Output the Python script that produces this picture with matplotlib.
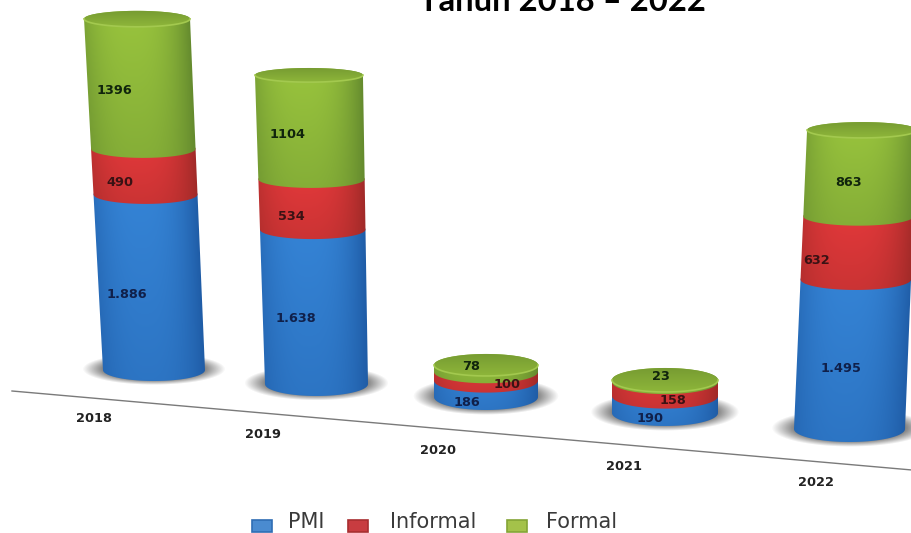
import numpy as np
import matplotlib
matplotlib.use("Agg")
import matplotlib.pyplot as plt
from matplotlib.path import Path
from matplotlib.patches import PathPatch, Rectangle

years = ["2018", "2019", "2020", "2021", "2022"]
pmi = [1886, 1638, 186, 190, 1495]
informal = [490, 534, 100, 158, 632]
formal = [1396, 1104, 78, 23, 863]
pmi_labels = ["1.886", "1.638", "186", "190", "1.495"]
informal_labels = ["490", "534", "100", "158", "632"]
formal_labels = ["1396", "1104", "78", "23", "863"]
series_names = ["PMI", "Informal", "Formal"]
title = "Tahun 2018 – 2022"

# perspective layout of each cylinder (pixels, and pixels per unit of value)
base_x = [154, 316.5, 486, 665, 849.5]
base_y = [370, 384, 397, 413, 429]
px_per_unit = [0.0931, 0.0943, 0.088, 0.089, 0.100]
lean_per_unit = [-0.0045, -0.0023, 0.0, 0.0, 0.0042]
half_w0 = [51, 51.5, 52, 53, 55.5]
half_w_slope = [0.00053, 0.00076, 0.0, 0.0, -0.00017]
minor0 = [11, 12, 13, 13, 13]
minor_slope = [-0.0008, -0.0015, -0.0055, -0.0027, -0.0017]

# hand placement of texts
year_xy = [(94, 419), (263, 434), (438, 450), (624, 466), (816, 482)]
pmi_xy = [(127, 295), (296, 319), (467, 403), (650, 418), (841, 368)]
informal_xy = [(120, 183), (291, 216), (507, 385), (673, 401), (817, 260)]
formal_xy = [(114, 91), (288, 135), (471, 366), (661, 377), (849, 182)]

palette = {
    "PMI": ("#1F5CA6", "#3584D6"),
    "Informal": ("#A02A28", "#E4393B"),
    "Formal": ("#648A2E", "#99C43D"),
}
swatch_face = {"PMI": "#4A8BD0", "Informal": "#C83C40", "Formal": "#A4C24A"}
swatch_edge = {"PMI": "#2F6DB4", "Informal": "#A82E30", "Formal": "#84A436"}
W, H = 912, 533

fig = plt.figure(figsize=(W / 100, H / 100), dpi=100)
ax = fig.add_axes([0, 0, 1, 1])
ax.set_axis_off()


def rgb(c):
    return np.array(matplotlib.colors.to_rgb(c))


def geom(i, v):
    return (base_x[i] + lean_per_unit[i] * v,
            base_y[i] - px_per_unit[i] * v,
            half_w0[i] + half_w_slope[i] * v,
            minor0[i] + minor_slope[i] * v)


def segment_path(i, v0, v1):
    cx0, cy0, a0, b0 = geom(i, v0)
    cx1, cy1, a1, b1 = geom(i, v1)
    th = np.linspace(np.pi, 0, 60)
    low = np.c_[cx0 + a0 * np.cos(th), cy0 + b0 * np.sin(th)]
    th2 = np.linspace(0, np.pi, 60)
    up = np.c_[cx1 + a1 * np.cos(th2), cy1 - b1 * np.sin(th2)]
    pts = np.vstack([low, up, low[:1]])
    return Path(pts, closed=True)


def draw_segment(i, v0, v1, name):
    path = segment_path(i, v0, v1)
    bb = path.get_extents()
    x0, x1 = int(bb.x0) - 1, int(bb.x1) + 2
    y0, y1 = int(bb.y0) - 1, int(bb.y1) + 2
    xs, ys = np.meshgrid(np.arange(x0, x1) + .5, np.arange(y0, y1) + .5)
    v = (base_y[i] - ys) / px_per_unit[i]
    cx = base_x[i] + lean_per_unit[i] * v
    a = half_w0[i] + half_w_slope[i] * v
    u = np.clip((xs - cx) / a, -1, 1)
    shade = 1 - np.abs((u + 0.12) / 1.12) ** 2.6
    t = np.clip((ys - y0) / max(y1 - y0, 1), 0, 1)
    shade = np.clip(shade * (1 - 0.38 * t), 0, 1)[..., None]
    dark, light = map(rgb, palette[name])
    img = dark + (light - dark) * shade
    im = ax.imshow(img, extent=(x0, x1, y1, y0), origin="upper",
                   aspect="auto", zorder=3, interpolation="bilinear")
    im.set_clip_path(PathPatch(path, transform=ax.transData))


def draw_cap(i, v):
    cx, cy, a, b = geom(i, v)
    x0, x1 = int(cx - a) - 1, int(cx + a) + 2
    y0, y1 = int(cy - b) - 1, int(cy + b) + 2
    xs, ys = np.meshgrid(np.arange(x0, x1) + .5, np.arange(y0, y1) + .5)
    t = ((ys - (cy - b)) / (2 * b)).clip(0, 1)[..., None]
    img = rgb("#779C32") + (rgb("#8EB63A") - rgb("#779C32")) * t
    th = np.linspace(0, 2 * np.pi, 121)
    path = Path(np.c_[cx + a * np.cos(th), cy + b * np.sin(th)], closed=True)
    im = ax.imshow(img, extent=(x0, x1, y1, y0), origin="upper",
                   aspect="auto", zorder=4, interpolation="bilinear")
    im.set_clip_path(PathPatch(path, transform=ax.transData))
    th2 = np.linspace(0, np.pi, 60)
    ax.plot(cx + a * np.cos(th2), cy + b * np.sin(th2), color="#A3C94F",
            lw=1.2, zorder=4.5)


def draw_shadow(i):
    cx, cy, a, b = geom(i, 0)
    A, B = a * 1.4, b * 1.45
    cy -= 1
    x0, x1 = int(cx - A) - 1, int(cx + A) + 2
    y0, y1 = int(cy - B) - 1, int(cy + B) + 2
    xs, ys = np.meshgrid(np.arange(x0, x1) + .5, np.arange(y0, y1) + .5)
    r = np.hypot((xs - cx) / A, (ys - cy) / B)
    alpha = np.clip((1 - r) / 0.3, 0, 1) ** 1.0 * 0.9
    img = np.zeros(xs.shape + (4,))
    img[..., :3] = rgb("#707070")
    img[..., 3] = alpha
    ax.imshow(img, extent=(x0, x1, y1, y0), origin="upper",
              aspect="auto", zorder=2, interpolation="bilinear")


# axis line along the floor
ax.plot([12, 912], [391, 470], color="#7A7A7A", lw=1.0, zorder=1)

for i in range(len(years)):
    draw_shadow(i)
    level = 0
    for name, vals in zip(series_names, (pmi, informal, formal)):
        draw_segment(i, level, level + vals[i], name)
        level += vals[i]
    draw_cap(i, level)

label_style = dict(ha="center", va="center", fontsize=9.3, fontweight="bold",
                   family="DejaVu Sans", zorder=6)
for i in range(len(years)):
    ax.text(*pmi_xy[i], pmi_labels[i], color="#10204A", **label_style)
    ax.text(*informal_xy[i], informal_labels[i], color="#3A1214", **label_style)
    ax.text(*formal_xy[i], formal_labels[i], color="#10240C", **label_style)
    ax.text(*year_xy[i], years[i], color="#222222", **label_style)

# legend
swatch_x = [252, 348, 507]
text_x = [306, 433, 582]
for x, tx, name in zip(swatch_x, text_x, series_names):
    ax.add_patch(Rectangle((x, 520), 20, 12, fc=swatch_face[name], ec=swatch_edge[name],
                           lw=1.2, zorder=5))
    ax.text(tx, 527.5, name, ha="center", va="baseline", fontsize=15,
            family="DejaVu Sans", color="#3A3A3A", zorder=5)

ax.text(562, 11, title, ha="center", va="baseline", fontsize=23.6, fontweight="bold",
        family="Lato", color="black", zorder=6)

ax.set_xlim(0, W)
ax.set_ylim(H, 0)
fig.savefig("out.png", dpi=100, facecolor="white")
